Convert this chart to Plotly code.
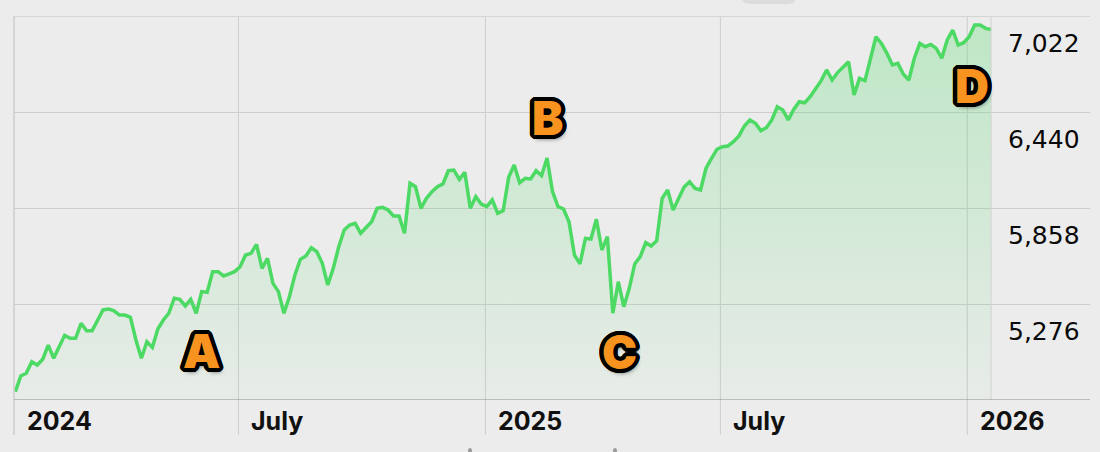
import math
import pandas as pd
import plotly.graph_objects as go

# index closes, one sample every few sessions
start_date = "2024-01-11"
end_date = "2026-01-19"
close = [
    4744, 4840, 4856, 4926, 4906, 4941, 5027, 4947, 5017, 5086,
    5068, 5068, 5159, 5114, 5114, 5175, 5240, 5246, 5235, 5209,
    5209, 5195, 5058, 4947, 5047, 5013, 5124, 5179, 5220, 5311,
    5304, 5264, 5304, 5220, 5351, 5347, 5472, 5472, 5446, 5458,
    5472, 5502, 5573, 5583, 5638, 5492, 5553, 5401, 5351, 5220,
    5320, 5452, 5547, 5567, 5617, 5593, 5523, 5391, 5492, 5623,
    5725, 5755, 5765, 5705, 5741, 5775, 5856, 5862, 5846, 5810,
    5810, 5705, 6008, 5987, 5856, 5917, 5957, 5987, 6004, 6084,
    6088, 6032, 6074, 5856, 5927, 5882, 5866, 5907, 5826, 5842,
    6044, 6119, 6011, 6038, 6034, 6084, 6054, 6161, 5957, 5866,
    5852, 5775, 5573, 5519, 5674, 5670, 5790, 5603, 5684, 5220,
    5411, 5260, 5371, 5519, 5563, 5648, 5628, 5660, 5917, 5967,
    5846, 5919, 5985, 6017, 5977, 5967, 6099, 6159, 6214, 6230,
    6234, 6260, 6295, 6355, 6392, 6372, 6327, 6345, 6392, 6472,
    6452, 6392, 6456, 6502, 6496, 6533, 6584, 6630, 6695, 6634,
    6679, 6710, 6745, 6543, 6644, 6630, 6766, 6896, 6856, 6796,
    6725, 6735, 6669, 6634, 6766, 6856, 6836, 6850, 6826, 6766,
    6877, 6937, 6846, 6860, 6896, 6967, 6967, 6947, 6941,
]

y_levels = [7022, 6440, 5858, 5276]
y_floor = 4694
x_ticks = ["2024-01-10", "2024-06-28", "2025-01-01", "2025-06-28", "2026-01-01"]
x_labels = ["2024", "July", "2025", "July", "2026"]

markers = ["A", "B", "C", "D"]

W, H = 1100, 452
L, R, T, B = 14, 10, 16, 52


def px(x):
    return (x - L) / (W - L - R)


def py(y):
    return (H - B - y) / (H - T - B)


dates = pd.date_range(start_date, end_date, periods=len(close))

fig = go.Figure()
fig.add_trace(go.Scatter(
    x=dates, y=close, mode="lines",
    line=dict(color="#4CD964", width=3.5),
    fill="tozeroy",
    fillgradient=dict(type="vertical", start=y_floor, stop=y_levels[0],
                      colorscale=[[0, "rgba(76,217,100,0.03)"],
                                  [1, "rgba(76,217,100,0.29)"]]),
    hoverinfo="skip",
))

grid = "#CDCDCD"
shapes = []
# vertical separators run below the axis, through the label row
for d in x_ticks[1:]:
    shapes.append(dict(type="line", xref="x", yref="paper", x0=d, x1=d,
                       y0=py(435), y1=1, line=dict(color=grid, width=1), layer="below"))
shapes.append(dict(type="line", xref="paper", yref="paper", x0=0, x1=0,
                   y0=py(435), y1=1, line=dict(color=grid, width=1.5)))
# "now" edge at the last sample
shapes.append(dict(type="line", xref="x", yref="paper", x0=dates[-1], x1=dates[-1],
                   y0=0, y1=1, line=dict(color="#D2D2D2", width=1)))
shapes.append(dict(type="line", xref="paper", yref="y", x0=0, x1=1,
                   y0=y_levels[0], y1=y_levels[0], line=dict(color="#D6D6D6", width=2)))
shapes.append(dict(type="line", xref="paper", yref="y", x0=0, x1=1,
                   y0=y_floor, y1=y_floor, line=dict(color="#8E8E8E", width=1)))
# bits of UI peeking in at the edges
shapes.append(dict(type="path", xref="paper", yref="paper",
                   path=f"M {px(745)},{py(-6)} L {px(792)},{py(-6)} "
                        f"Q {px(800)},{py(3)} {px(788)},{py(4)} "
                        f"L {px(750)},{py(4)} Q {px(738)},{py(3)} {px(745)},{py(-6)} Z",
                   fillcolor="#DCDCDC", line=dict(width=0)))
for bx in [470, 615]:
    shapes.append(dict(type="circle", xref="paper", yref="paper",
                       x0=px(bx - 2), x1=px(bx + 2), y0=py(453), y1=py(448),
                       fillcolor="#9A9A9A", line=dict(width=0)))

annotations = []
for lvl in y_levels:
    annotations.append(dict(x=px(1006), y=lvl, xref="paper", yref="y", yshift=-27,
                            text=f"{lvl:,}", showarrow=False, xanchor="left", yanchor="middle",
                            font=dict(family="DejaVu Sans", size=25, color="#0A0A0A")))
for d, lab in zip(x_ticks, x_labels):
    annotations.append(dict(x=d, y=py(421), xref="x", yref="paper", xshift=11,
                            text=lab, showarrow=False, xanchor="left", yanchor="middle",
                            font=dict(family="Inter", size=25, color="#111111", weight="bold")))

steps = 20
rad = 4.2
outline = ", ".join(
    f"{rad * math.cos(2 * math.pi * i / steps):.2f}px {rad * math.sin(2 * math.pi * i / steps):.2f}px 0 #000"
    for i in range(steps))
badge_shadow = outline + ", 2px 4px 4px rgba(0,0,0,0.55)"
badge_pos = [(201, 350), (547, 117), (619, 351), (972, 86)]
for m, (bx, by) in zip(markers, badge_pos):
    annotations.append(dict(x=px(bx), y=py(by), xref="paper", yref="paper",
                            text=m, showarrow=False, xanchor="center", yanchor="middle",
                            font=dict(family="Inter", size=47, color="#F7931E",
                                      weight=900, shadow=badge_shadow)))

fig.update_layout(
    width=W, height=H,
    margin=dict(l=L, r=R, t=T, b=B),
    paper_bgcolor="#ECECEC", plot_bgcolor="#ECECEC",
    showlegend=False,
    xaxis=dict(type="date", range=["2024-01-10", "2026-04-03 22:00"],
               showgrid=False, showticklabels=False, zeroline=False, showline=False),
    yaxis=dict(range=[y_floor, y_levels[0]], tickvals=y_levels[1:], showgrid=True,
               gridcolor=grid, gridwidth=1, showticklabels=False, zeroline=False),
    shapes=shapes,
    annotations=annotations,
)

fig.write_html(
    "out.html",
    config={"displayModeBar": False},
    post_script="document.body.style.margin='0';document.body.style.background='#ECECEC';"
                "document.body.style.overflow='hidden';",
)
